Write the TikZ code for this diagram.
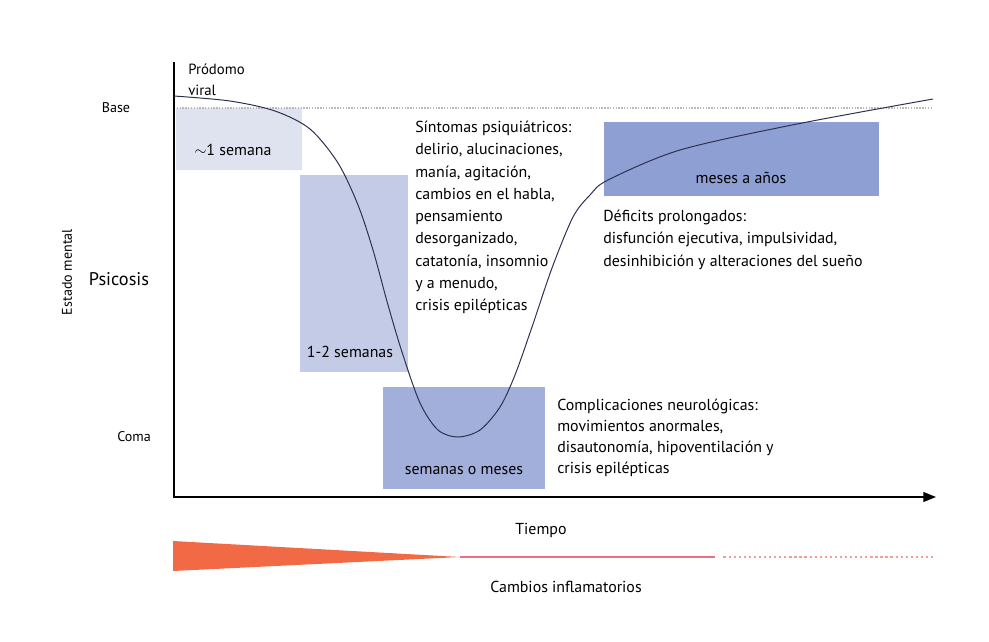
\documentclass[tikz,border=0pt]{standalone}
\usepackage{fontspec}
\setmainfont{PT Sans}
\usetikzlibrary{arrows.meta}
\definecolor{boxA}{HTML}{DFE3F0}
\definecolor{boxB}{HTML}{C4CBE6}
\definecolor{boxC}{HTML}{A2AFDA}
\definecolor{boxD}{HTML}{8E9FD3}
\definecolor{curvecol}{HTML}{2B3050}
\definecolor{inflam}{HTML}{F26A45}
\definecolor{inflamline}{HTML}{EC7080}
\definecolor{inflamdot}{HTML}{F2A090}
\tikzset{
  txt/.style={inner sep=0pt, font=\fontsize{11.3}{15.8}\selectfont},
  block/.style={txt, anchor=north west, align=left},
  level/.style={inner sep=0pt, font=\fontsize{10}{12}\selectfont}
}
\begin{document}
\begin{tikzpicture}[x=0.025cm, y=-0.025cm]
  \useasboundingbox[fill=white] (0,0) rectangle (989,641);
  % time windows
  \fill[boxA] (176,108) rectangle (302,170);
  \fill[boxB] (300,175) rectangle (408,372);
  \fill[boxC] (383,387) rectangle (545,489);
  \fill[boxD] (604,122) rectangle (879,196);
  \node[txt] (w1) at (233,150) {$\sim$1 semana};
  \node[txt] (w2) at (350,352) {1-2 semanas};
  \node[txt] (w3) at (464,471) {semanas o meses};
  \node[txt] (w4) at (741,178) {meses a años};
  % base line
  \draw[gray!55, densely dotted, line width=1pt] (174,108) -- (933,108);
  % axes
  \coordinate (top) at (174,62);
  \coordinate (origin) at (174,497);
  \coordinate (tip) at (936,497);
  \draw[line width=1.1pt, -{Triangle[length=9pt, width=7pt]}] (top) -- (origin) -- (tip);
  % mental state curve
  \draw[curvecol, line width=0.7pt] plot[smooth, tension=0.5] coordinates
    {(174,96) (230,101) (275,111) (310,129) (338,163) (358,205)
     (373,250) (388,305) (402,352) (420,403) (438,430) (458,437) (480,430)
     (500,407) (515,375) (532,327) (552,268) (573,217) (590,195) (608,180)
     (680,150) (797,124) (933,99)};
  % levels
  \node[level] (base) at (116,108) {Base};
  \node[level, font=\fontsize{13}{15}\selectfont] (psicosis) at (119,279) {Psicosis};
  \node[level] (coma) at (134,437) {Coma};
  \node[level, rotate=90] (estado) at (67,272) {Estado mental};
  \node[level, anchor=north west, align=left, font=\fontsize{10.5}{14.5}\selectfont]
    (prodromo) at (188,64) {Pródomo\\viral};
  % phases
  \node[block] (psiq) at (415,121) {Síntomas psiquiátricos:\\delirio, alucinaciones,\\manía, agitación,\\cambios en el habla,\\pensamiento\\desorganizado,\\catatonía, insomnio\\y a menudo,\\crisis epilépticas};
  \node[block] (deficit) at (603,210) {Déficits prolongados:\\disfunción ejecutiva, impulsividad,\\desinhibición y alteraciones del sueño};
  \node[block, font=\fontsize{11.3}{14.8}\selectfont] (neuro) at (557,399) {Complicaciones neurológicas:\\movimientos anormales,\\disautonomía, hipoventilación y\\crisis epilépticas};
  \node[txt] (tiempo) at (541,530) {Tiempo};
  % inflammation
  \coordinate (i1) at (173,541);
  \coordinate (i2) at (173,571);
  \coordinate (itip) at (460,557);
  \coordinate (iend) at (715,557);
  \coordinate (idot) at (935,557);
  \fill[inflam] (i1) -- (itip) -- (i2) -- cycle;
  \draw[inflamline, line width=1.6pt] (itip) -- (iend);
  \draw[inflamdot, dotted, line width=1.6pt] ([xshift=6pt]iend) -- (idot);
  \node[txt] (cambios) at (566,587) {Cambios inflamatorios};
\end{tikzpicture}
\end{document}
